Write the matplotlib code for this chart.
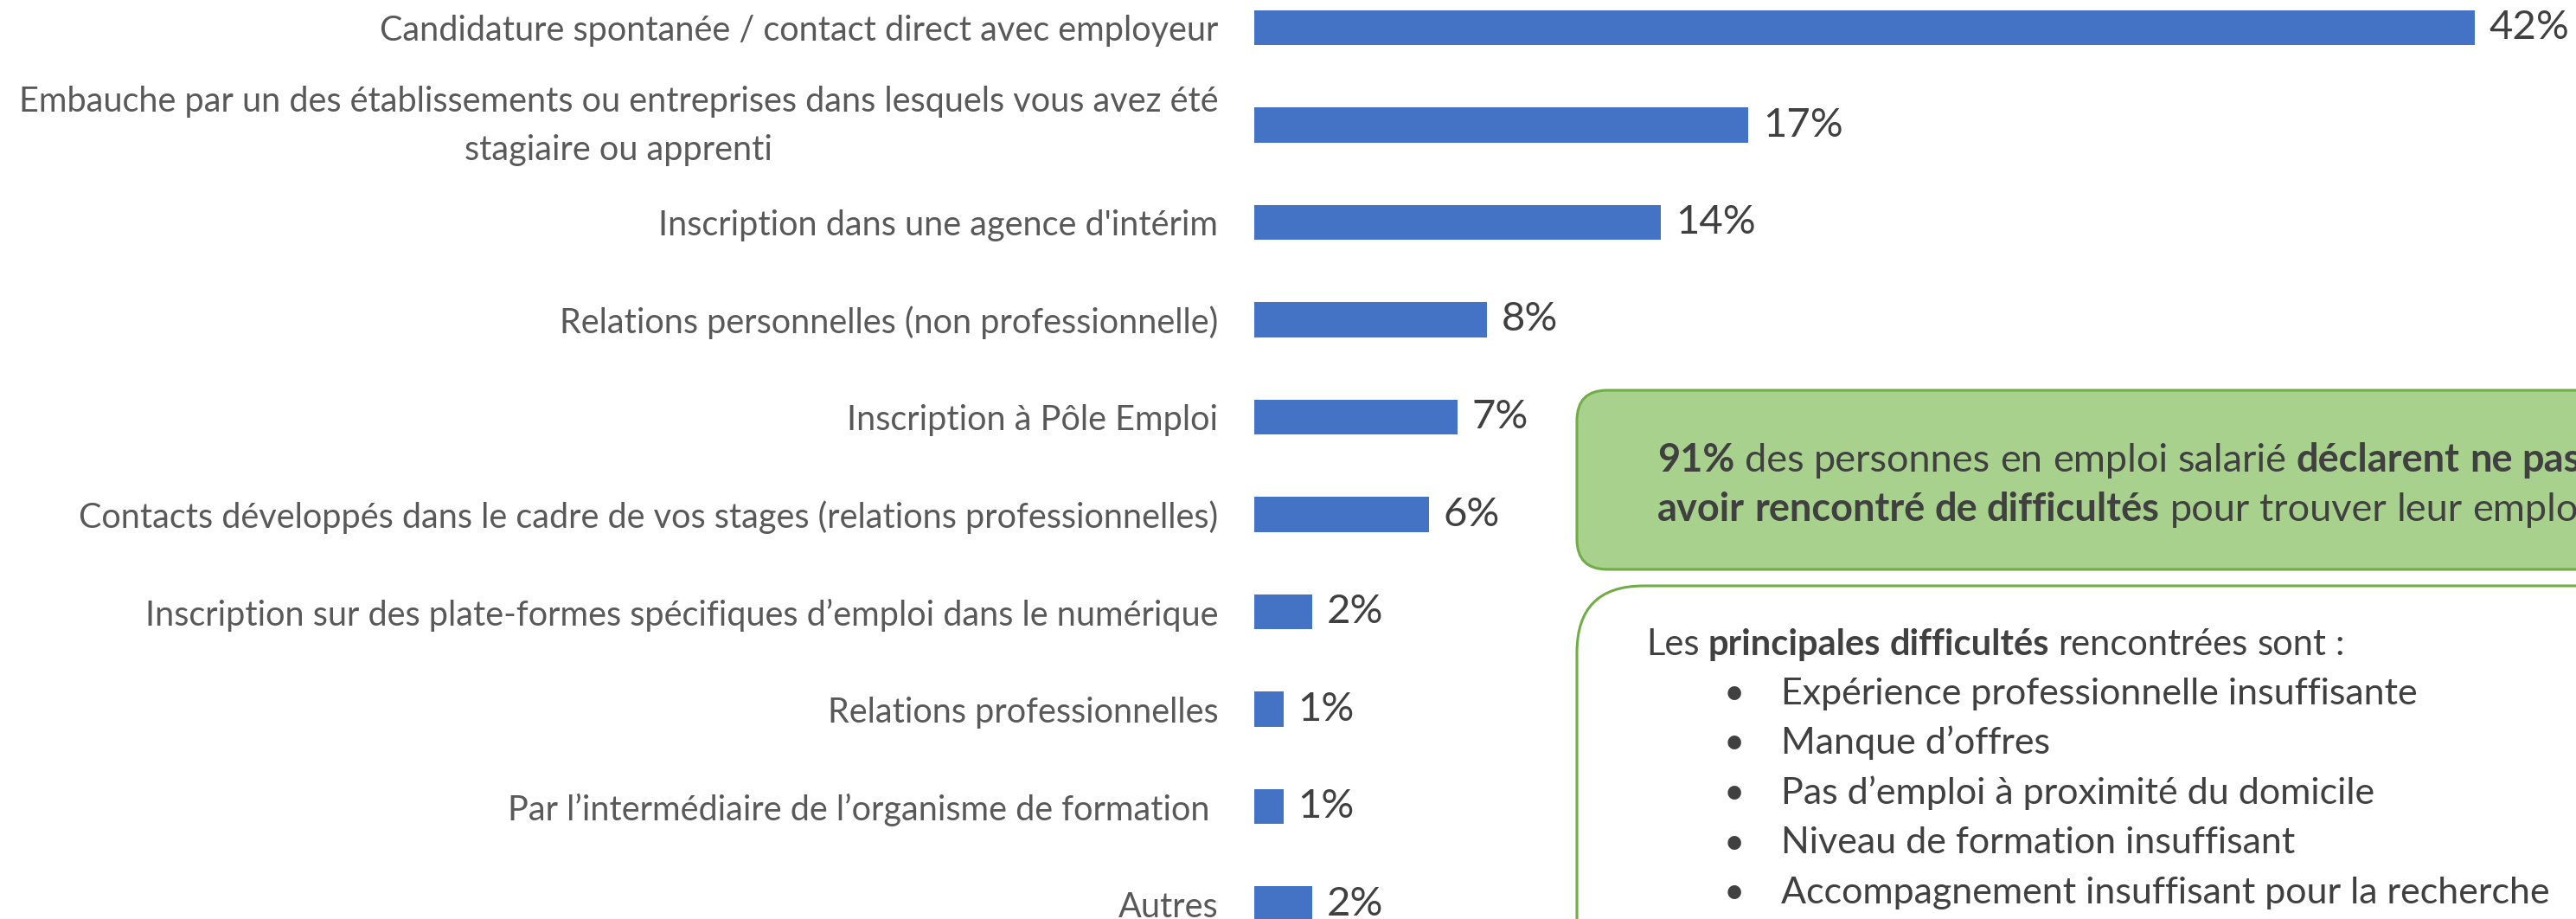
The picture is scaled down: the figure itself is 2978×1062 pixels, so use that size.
import matplotlib.pyplot as plt
from matplotlib.patches import FancyBboxPatch

plt.rcParams['font.family'] = ['Lato', 'DejaVu Sans']

# données
categories = ["Candidature spontanée / contact direct avec employeur",
              "Embauche par un des établissements ou entreprises dans lesquels vous avez été\nstagiaire ou apprenti",
              "Inscription dans une agence d'intérim",
              "Relations personnelles (non professionnelle)",
              "Inscription à Pôle Emploi",
              "Contacts développés dans le cadre de vos stages (relations professionnelles)",
              "Inscription sur des plate-formes spécifiques d’emploi dans le numérique",
              "Relations professionnelles",
              "Par l’intermédiaire de l’organisme de formation ",
              "Autres"]
values = [42, 17, 14, 8, 7, 6, 2, 1, 1, 2]

box1_lines = [[("91%", True), ("des personnes en emploi salarié", False), ("déclarent ne pas", True)],
              [("avoir rencontré de difficultés", True), ("pour trouver leur emploi", False)]]
box2_title = [("Les", False), ("principales difficultés", True), ("rencontrées sont :", False)]
difficultes = ["Expérience professionnelle insuffisante",
               "Manque d’offres",
               "Pas d’emploi à proximité du domicile",
               "Niveau de formation insuffisant",
               "Accompagnement insuffisant pour la recherche"]

BLUE = '#4472C4'
GREEN_FILL = '#A9D18E'
GREEN_EDGE = '#70AD47'
TXT = '#404040'
LBL = '#595959'

W, H = 2978, 1062
fig = plt.figure(figsize=(W / 100, H / 100), dpi=100)

# graphique en barres
ax = fig.add_axes([1450 / W, 0, 1 - 1450 / W, 1])
pos = list(range(len(categories)))
ax.barh(pos, values, height=0.356, color=BLUE)
ax.set_xlim(0, (W - 1450) / 33.6)
ax.set_ylim((H - 32) / 112.5, -32 / 112.5)
ax.set_yticks([])
ax.set_xticks([])
for s in ax.spines.values():
    s.set_visible(False)
for p, cat in zip(pos, categories):
    dy = 9 if '\n' in cat else 0  # texte sur deux lignes : recentrer sur la barre
    ax.annotate(cat, (0, p), xytext=(-30, dy), textcoords='offset points',
                ha='right', va='center_baseline', multialignment='center',
                linespacing=1.65, fontsize=28.5, color=LBL, annotation_clip=False)
for p, v in zip(pos, values):
    ax.annotate(f"{v}%", (v, p), xytext=(12, 0), textcoords='offset points',
                va='center', ha='left', fontsize=34, color=TXT, annotation_clip=False)

# encadrés
ov = fig.add_axes([0, 0, 1, 1], zorder=5)
ov.set_xlim(0, W)
ov.set_ylim(H, 0)
ov.axis('off')
ov.patch.set_visible(False)

ov.add_patch(FancyBboxPatch((1823, 451), 1400, 207,
                            boxstyle="round,pad=0,rounding_size=35",
                            fc=GREEN_FILL, ec=GREEN_EDGE, lw=2.2, clip_on=False))
ov.add_patch(FancyBboxPatch((1823, 677), 1400, 700,
                            boxstyle="round,pad=0,rounding_size=77",
                            fc='white', ec=GREEN_EDGE, lw=2.2, clip_on=False))

renderer = fig.canvas.get_renderer()


def space_width(bold, fs):
    w = 'bold' if bold else 'normal'
    a = ov.text(0, 0, "a a", fontsize=fs, fontweight=w)
    b = ov.text(0, 0, "aa", fontsize=fs, fontweight=w)
    d = a.get_window_extent(renderer).width - b.get_window_extent(renderer).width
    a.remove()
    b.remove()
    return d


def draw_runs(x, y, runs, fs):
    first = True
    for text, bold in runs:
        sp = space_width(bold, fs)
        for word in text.split(' '):
            if not first:
                x += sp
            first = False
            t = ov.text(x, y, word, fontsize=fs, color=TXT, va='baseline', ha='left',
                        fontweight='bold' if bold else 'normal')
            x += t.get_window_extent(renderer).width


FS1 = 32.5
draw_runs(1916, 545, box1_lines[0], FS1)
draw_runs(1916, 602, box1_lines[1], FS1)
draw_runs(1903, 757, box2_title, 30)
for i, d in enumerate(difficultes):
    y = 814 + 57.5 * i
    ov.text(2005, y, "•", fontsize=30, color=TXT, va='baseline', ha='center')
    ov.text(2059, y, d, fontsize=31, color=TXT, va='baseline', ha='left')

fig.savefig('out.png', dpi=100)
